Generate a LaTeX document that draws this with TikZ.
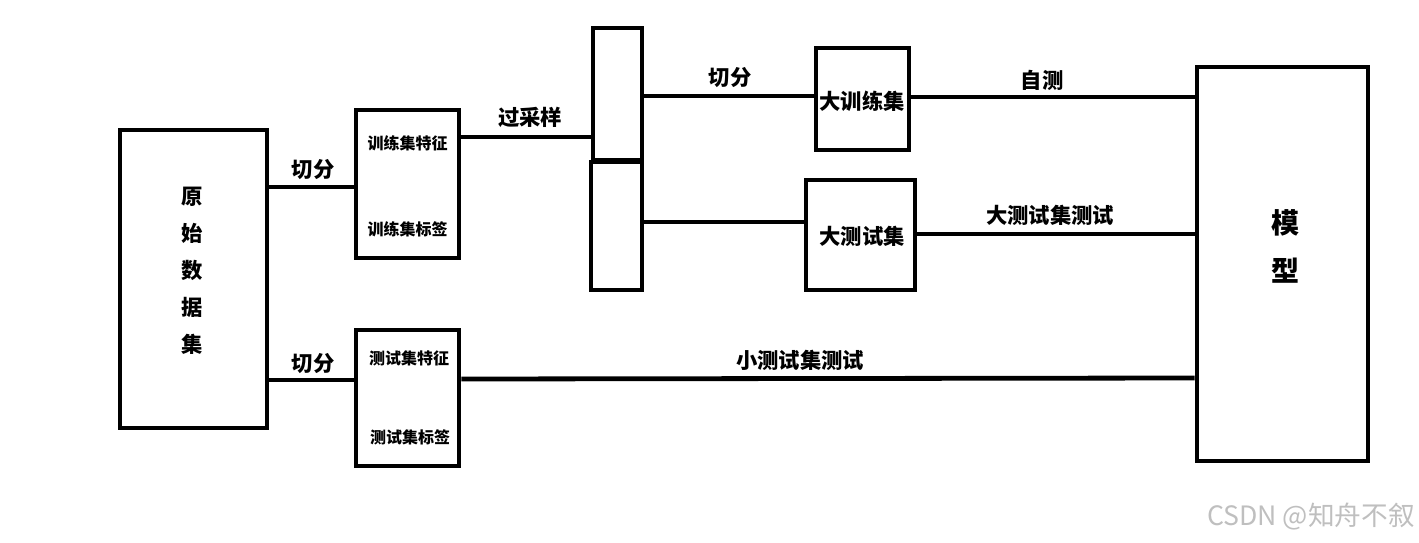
\documentclass[tikz,border=0pt]{standalone}
\usepackage{fontspec}
\setmainfont{Noto Sans CJK SC}
\begin{document}
\begin{tikzpicture}[x=0.75pt,y=-0.75pt,
  box/.style={draw,line width=3.6pt,rectangle,inner sep=0pt},
  conn/.style={line width=3.6pt},
  lbl/.style={font=\bfseries\fontsize{16}{19}\selectfont,inner sep=0pt},
  small/.style={font=\bfseries\fontsize{12}{14}\selectfont,inner sep=0pt}]
\useasboundingbox (0,0) rectangle (1419,542);
% boxes
\node[box,minimum width=147*0.75pt,minimum height=298*0.75pt] (raw) at (193.5,279) {};
\node[box,minimum width=103*0.75pt,minimum height=148*0.75pt] (trf) at (407.5,184) {};
\node[box,minimum width=103*0.75pt,minimum height=136*0.75pt] (tef) at (407.5,398) {};
\node[box,minimum width=49*0.75pt,minimum height=132*0.75pt] (up) at (617.5,94) {};
\node[box,minimum width=51*0.75pt,minimum height=128*0.75pt] (lo) at (616.5,226) {};
\node[box,minimum width=93*0.75pt,minimum height=102*0.75pt] (btr) at (862.5,99) {};
\node[box,minimum width=109*0.75pt,minimum height=110*0.75pt] (bte) at (860.5,235) {};
\node[box,minimum width=171*0.75pt,minimum height=394*0.75pt] (model) at (1282.5,264) {};
% texts in boxes
\node[font=\bfseries\fontsize{16}{27.75}\selectfont,align=center,inner sep=0pt] (rawt) at (192,271) {原\\始\\数\\据\\集};
\node[small] (trf1) at (407.5,143) {训练集特征};
\node[small] (trf2) at (407.5,229) {训练集标签};
\node[small] (tef1) at (409,358) {测试集特征};
\node[small] (tef2) at (410,437) {测试集标签};
\node[lbl] (btrt) at (862,101) {大训练集};
\node[lbl] (btet) at (862,236) {大测试集};
\node[font=\bfseries\fontsize{21}{36}\selectfont,align=center,inner sep=0pt] (modelt) at (1285,246) {模\\型};
% connectors
\draw[conn] (raw.east |- 0,187) -- (trf.west |- 0,187);
\draw[conn] (raw.east |- 0,380) -- (tef.west |- 0,380);
\draw[conn] (trf.east |- 0,137) -- (up.west |- 0,137);
\draw[conn] (up.east |- 0,96) -- (btr.west |- 0,96);
\draw[conn] (lo.east |- 0,222) -- (bte.west |- 0,222);
\draw[conn] (btr.east |- 0,97) -- (model.west |- 0,97);
\draw[conn] (bte.east |- 0,234) -- (model.west |- 0,234);
\draw[conn] (tef.east |- 0,379) -- (model.west |- 0,378);
% labels
\node[lbl] (l1) at (313,170) {切分};
\node[lbl] (l2) at (313,364) {切分};
\node[lbl] (l3) at (530,117) {过采样};
\node[lbl] (l4) at (730,78) {切分};
\node[lbl] (l5) at (1042,80) {自测};
\node[lbl] (l6) at (1050,215) {大测试集测试};
\node[lbl] (l7) at (800,360) {小测试集测试};
% watermark
\node[font=\fontsize{20}{24}\selectfont,text=black!25,anchor=east,inner sep=0pt] (wm) at (1415,517) {CSDN @知舟不叙};
\end{tikzpicture}
\end{document}
